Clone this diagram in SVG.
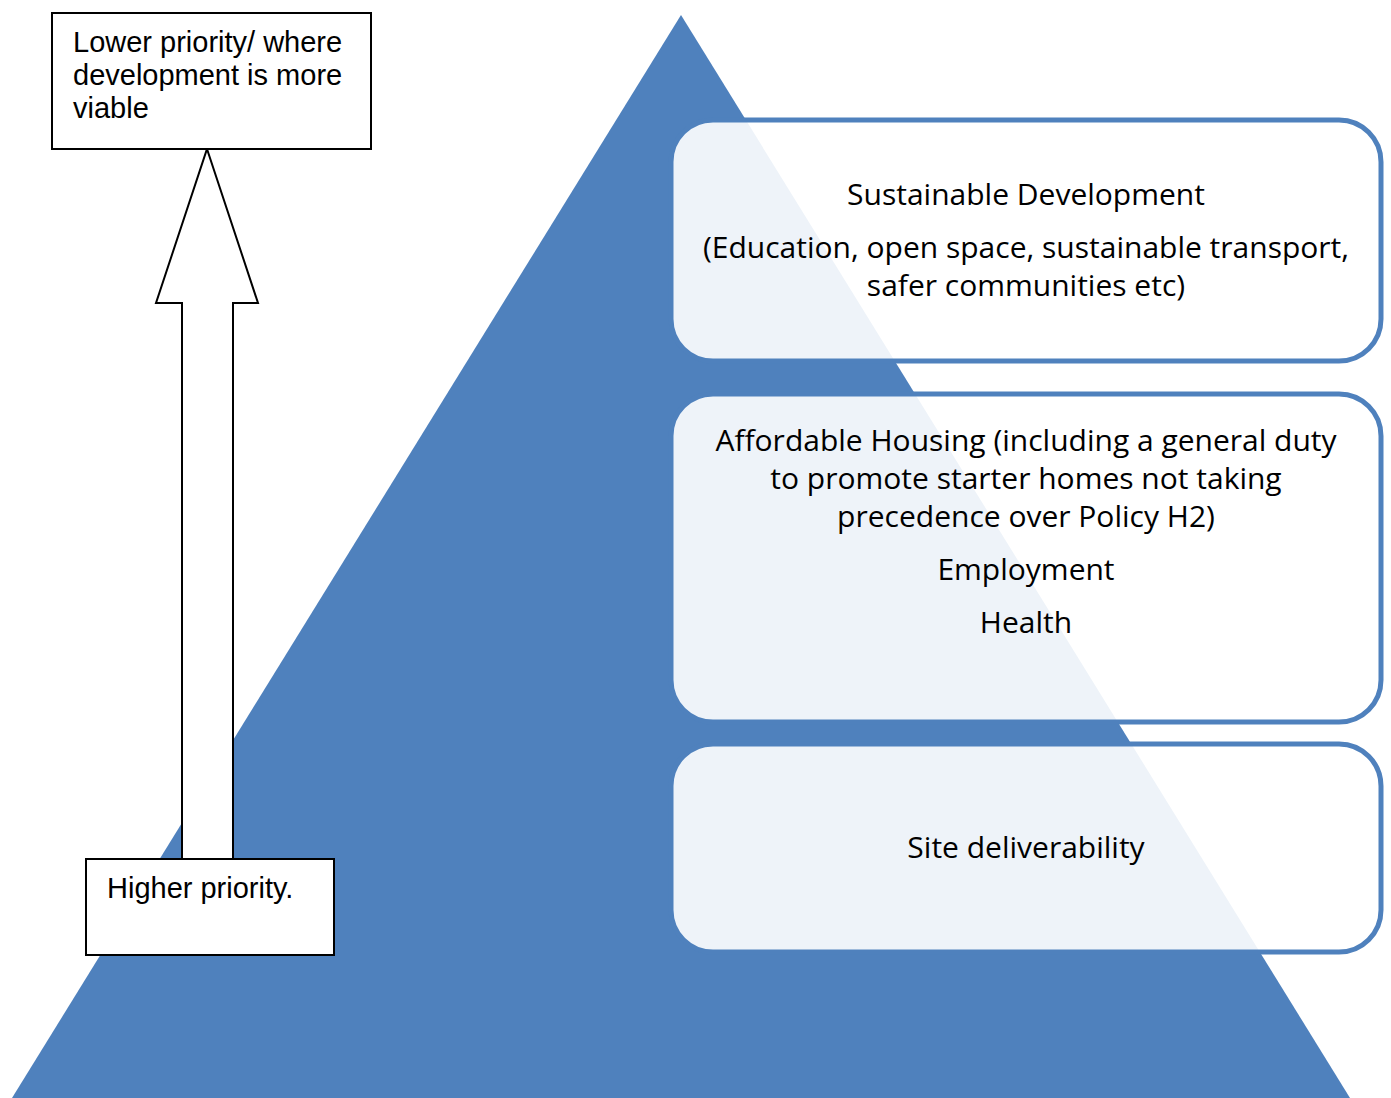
<svg xmlns="http://www.w3.org/2000/svg" width="1391" height="1098" viewBox="0 0 1391 1098">
<style>
.box{fill:#ffffff;fill-opacity:0.9;stroke:#4F81BD;stroke-width:5}
.t{font-family:"Open Sans","Noto Sans",sans-serif;font-size:30px;fill:#000;text-anchor:middle}
.lb{fill:#fff;stroke:#000;stroke-width:2}
.lt{font-family:"Liberation Sans",Arial,sans-serif;font-size:29px;fill:#000}
</style>
<rect width="1391" height="1098" fill="#fff"/>
<g id="pyramid"><polygon points="681,15 12,1098 1350,1098" fill="#4F81BD"/></g>
<g id="connectors">
<polygon class="lb" points="207,149 258,303 233,303 233,860 182,860 182,303 156,303"/>
</g>
<g id="top-label"><rect class="lb" x="52" y="13" width="319" height="136"/>
<text class="lt" x="73" y="52">Lower priority/ where</text>
<text class="lt" x="73" y="85">development is more</text>
<text class="lt" x="73" y="118">viable</text></g>
<g id="bottom-label"><rect class="lb" x="86" y="859" width="248" height="96"/>
<text class="lt" x="107" y="898">Higher priority.</text></g>
<g id="sustainable"><rect class="box" x="671" y="120" width="710" height="241" rx="42"/>
<text class="t" x="1026" y="205">Sustainable Development</text>
<text class="t" x="1026" y="258">(Education, open space, sustainable transport,</text>
<text class="t" x="1026" y="296">safer communities etc)</text></g>
<g id="affordable"><rect class="box" x="671" y="394" width="710" height="328" rx="42"/>
<text class="t" x="1026" y="451">Affordable Housing (including a general duty</text>
<text class="t" x="1026" y="489">to promote starter homes not taking</text>
<text class="t" x="1026" y="527">precedence over Policy H2)</text>
<text class="t" x="1026" y="580">Employment</text>
<text class="t" x="1026" y="633">Health</text></g>
<g id="site"><rect class="box" x="671" y="744" width="710" height="208" rx="42"/>
<text class="t" x="1026" y="858">Site deliverability</text></g>
</svg>
